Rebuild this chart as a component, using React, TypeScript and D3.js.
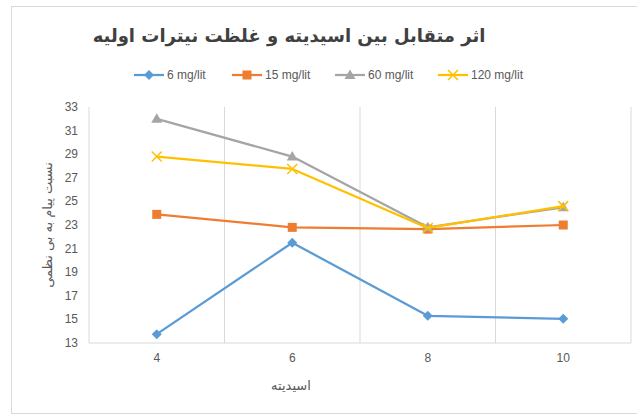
import React, { useRef, useEffect } from 'react';
import * as d3 from 'd3';

const categories = ['4', '6', '8', '10'];
const yTicks = [13, 15, 17, 19, 21, 23, 25, 27, 29, 31, 33];
const seriesNames = ['6 mg/lit', '15 mg/lit', '60 mg/lit', '120 mg/lit'];
const s6 = [13.75, 21.5, 15.3, 15.05];
const s15 = [23.9, 22.8, 22.65, 23.0];
const s60 = [32.0, 28.8, 22.8, 24.5];
const s120 = [28.8, 27.75, 22.75, 24.6];
const colors = ['#5B9BD5', '#ED7D31', '#A5A5A5', '#FFC000'];
const markers = ['diamond', 'square', 'triangle', 'x'];

const title = 'اثر متقابل بین اسیدیته و غلظت نیترات اولیه';
const xTitle = 'اسیدیته';
const yTitle = 'نسبت پیام به بی نظمی';

const W = 637;
const H = 416;

const drawMarker = (g: d3.Selection<SVGGElement, unknown, null, undefined>, type: string, x: number, y: number, color: string) => {
  if (type === 'diamond') {
    g.append('path').attr('d', `M${x},${y - 5}L${x + 5},${y}L${x},${y + 5}L${x - 5},${y}Z`).attr('fill', color);
  } else if (type === 'square') {
    g.append('rect').attr('x', x - 4.5).attr('y', y - 4.5).attr('width', 9).attr('height', 9).attr('fill', color);
  } else if (type === 'triangle') {
    g.append('path').attr('d', `M${x},${y - 5.5}L${x + 5.5},${y + 4}L${x - 5.5},${y + 4}Z`).attr('fill', color);
  } else {
    g.append('path')
      .attr('d', `M${x - 5},${y - 5}L${x + 5},${y + 5}M${x - 5},${y + 5}L${x + 5},${y - 5}`)
      .attr('stroke', color)
      .attr('stroke-width', 1.5);
  }
};

const Chart: React.FC = () => {
  const svgRef = useRef<SVGSVGElement | null>(null);

  useEffect(() => {
    if (!svgRef.current) return;
    const svg = d3.select(svgRef.current);
    svg.selectAll('*').remove();

    const left = 89;
    const right = 631;
    const top = 107;
    const bottom = 343;

    const x = d3.scaleBand().domain(categories).range([left, right]);
    const y = d3.scaleLinear().domain([13, 33]).range([bottom, top]);

    // chart frame
    svg.append('rect').attr('x', 11.5).attr('y', 6.5).attr('width', 640).attr('height', 407)
      .attr('fill', '#fff').attr('stroke', '#d9d9d9');

    // title
    svg.append('text').attr('x', 289).attr('y', 42).attr('text-anchor', 'middle')
      .attr('font-family', 'DejaVu Sans').attr('font-weight', 'bold').attr('font-size', 18)
      .attr('fill', '#404040').attr('direction', 'rtl').text(title);

    // vertical category gridlines
    const g = svg.append('g');
    categories.slice(1).forEach((c) => {
      g.append('line').attr('x1', x(c)!).attr('x2', x(c)!).attr('y1', top).attr('y2', bottom)
        .attr('stroke', '#d9d9d9').attr('stroke-width', 1);
    });
    g.append('line').attr('x1', left).attr('x2', left).attr('y1', top).attr('y2', bottom).attr('stroke', '#d9d9d9');
    g.append('line').attr('x1', right).attr('x2', right).attr('y1', top).attr('y2', bottom).attr('stroke', '#d9d9d9');
    g.append('line').attr('x1', left).attr('x2', right).attr('y1', bottom).attr('y2', bottom).attr('stroke', '#d9d9d9');

    // y ticks
    yTicks.forEach((t) => {
      svg.append('text').attr('x', 78).attr('y', y(t) + 4).attr('text-anchor', 'end')
        .attr('font-family', 'Liberation Sans').attr('font-size', 12).attr('fill', '#595959').text(t);
    });
    // x ticks
    categories.forEach((c) => {
      svg.append('text').attr('x', x(c)! + x.bandwidth() / 2).attr('y', 362).attr('text-anchor', 'middle')
        .attr('font-family', 'Liberation Sans').attr('font-size', 12).attr('fill', '#595959').text(c);
    });

    svg.append('text').attr('x', 291).attr('y', 390).attr('text-anchor', 'middle')
      .attr('font-family', 'DejaVu Sans').attr('font-size', 13).attr('fill', '#595959').text(xTitle);
    svg.append('text').attr('transform', `translate(52, ${(top + bottom) / 2}) rotate(-90)`)
      .attr('text-anchor', 'middle').attr('font-family', 'DejaVu Sans').attr('font-size', 13)
      .attr('fill', '#595959').text(yTitle);

    const data = [s6, s15, s60, s120];
    const cx = (i: number) => x(categories[i])! + x.bandwidth() / 2;
    const line = d3.line<number>().x((_, i) => cx(i)).y((d) => y(d));

    data.forEach((s, k) => {
      const sg = svg.append('g');
      sg.append('path').datum(s).attr('d', line).attr('fill', 'none')
        .attr('stroke', colors[k]).attr('stroke-width', 2.25).attr('stroke-linejoin', 'round');
      s.forEach((v, i) => drawMarker(sg, markers[k], cx(i), y(v), colors[k]));
    });

    // legend
    const legendX = [134, 232, 335, 438];
    seriesNames.forEach((name, k) => {
      const lg = svg.append('g');
      const lx = legendX[k];
      lg.append('line').attr('x1', lx).attr('x2', lx + 30).attr('y1', 75).attr('y2', 75)
        .attr('stroke', colors[k]).attr('stroke-width', 2.25);
      drawMarker(lg, markers[k], lx + 15, 75, colors[k]);
      lg.append('text').attr('x', lx + 33).attr('y', 79).attr('font-family', 'Liberation Sans')
        .attr('font-size', 12).attr('fill', '#595959').text(name);
    });
  }, []);

  return <svg ref={svgRef} width={W} height={H} style={{ display: 'block' }}></svg>;
};

export default function App() {
  return (
    <div style={{ position: 'absolute', left: 0, top: 0, width: W, height: H, background: '#fff' }}>
      <Chart />
    </div>
  );
}
